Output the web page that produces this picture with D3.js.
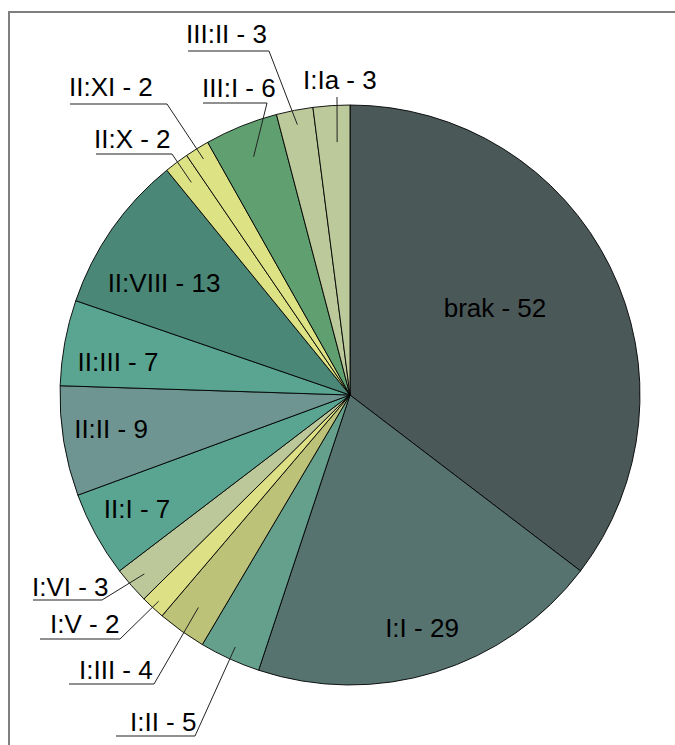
<!DOCTYPE html>
<html>
<head>
<meta charset="utf-8">
<script src="https://cdn.jsdelivr.net/npm/d3@7"></script>
<style>
  html, body { margin: 0; padding: 0; background: #fff; }
  svg { display: block; }
  text { font-family: "Liberation Sans", Arial, sans-serif; font-size: 26px; fill: #000; }
</style>
</head>
<body>
<svg id="chart" width="675" height="745"></svg>
<script>
// ---- data ----
const categories = ["brak", "I:I", "I:II", "I:III", "I:V", "I:VI", "II:I", "II:II", "II:III", "II:VIII", "II:X", "II:XI", "III:I", "III:II", "I:Ia"];
const values     = [52, 29, 5, 4, 2, 3, 7, 9, 7, 13, 2, 2, 6, 3, 3];
const colors     = ["#4b5858", "#567370", "#64a08c", "#bcc277", "#dde084", "#bcc79a", "#5aa591", "#6e9591", "#5aa591", "#4a8777", "#dde385", "#dde385", "#60a070", "#bcc99a", "#bcc99a"];

// ---- layout (label placement) ----
// inside labels: text centre x, baseline y
const insideLabels = {
  "brak":    {x: 495, y: 317},
  "I:I":     {x: 422, y: 637},
  "II:VIII": {x: 164, y: 292},
  "II:III":  {x: 118, y: 371},
  "II:II":   {x: 111, y: 438},
  "II:I":    {x: 137, y: 518}
};
// outside labels: text start x, baseline y, underline x1..x2 at uy, leader radius factor, angle offset (deg)
const outsideLabels = {
  "I:II":   {tx: 130, ty: 731, ux1: 116, ux2: 195, uy: 736, rf: 0.955, da: 0},
  "I:III":  {tx: 79,  ty: 679, ux1: 69,  ux2: 154, uy: 684, rf: 0.90,  da: 0},
  "I:V":    {tx: 50,  ty: 633, ux1: 40,  ux2: 120, uy: 639, rf: 0.97,  da: 0},
  "I:VI":   {tx: 32,  ty: 596, ux1: 33,  ux2: 102, uy: 600, rf: 0.94,  da: 0},
  "II:X":   {tx: 94,  ty: 148, ux1: 96,  ux2: 172, uy: 154, rf: 0.915, da: 0},
  "II:XI":  {tx: 69,  ty: 96,  ux1: 70,  ux2: 167, uy: 104, rf: 0.958, da: 0},
  "III:I":  {tx: 202, ty: 97,  ux1: 203, ux2: 267, uy: 103, rf: 0.886, da: 0},
  "III:II": {tx: 186, ty: 43,  ux1: 188, ux2: 269, uy: 51,  rf: 0.95,  da: 0},
  "I:Ia":   {tx: 303, ty: 89,  ux1: null, ux2: 337, uy: 97, rf: 0.873, da: 0.76}
};

const svg = d3.select("#chart");
const cx = 350, cy = 395, R = 290;

// frame
svg.append("path")
  .attr("d", "M9,745 L9,12 L675,12")
  .attr("fill", "none")
  .attr("stroke", "#7f7f7f")
  .attr("stroke-width", 2);

const data = categories.map((c, i) => ({name: c, value: values[i], color: colors[i]}));
const pie = d3.pie().sort(null).value(d => d.value);
const arcs = pie(data);
const arc = d3.arc().innerRadius(0).outerRadius(R);

const g = svg.append("g").attr("transform", `translate(${cx},${cy})`);
g.selectAll("path.slice")
  .data(arcs)
  .enter().append("path")
  .attr("class", "slice")
  .attr("d", arc)
  .attr("fill", d => d.data.color)
  .attr("stroke", "#000")
  .attr("stroke-width", 0.9)
  .attr("stroke-linejoin", "round");

// inside labels
arcs.forEach(a => {
  const L = insideLabels[a.data.name];
  if (!L) return;
  svg.append("text")
    .attr("x", L.x).attr("y", L.y)
    .attr("text-anchor", "middle")
    .text(`${a.data.name} - ${a.data.value}`);
});

// outside labels with leader lines
arcs.forEach(a => {
  const L = outsideLabels[a.data.name];
  if (!L) return;
  const mid = (a.startAngle + a.endAngle) / 2 + L.da * Math.PI / 180;
  const px = cx + Math.sin(mid) * R * L.rf;
  const py = cy - Math.cos(mid) * R * L.rf;
  svg.append("text")
    .attr("x", L.tx).attr("y", L.ty)
    .text(`${a.data.name} - ${a.data.value}`);
  if (L.ux1 !== null) {
    svg.append("line")
      .attr("x1", L.ux1).attr("y1", L.uy)
      .attr("x2", L.ux2).attr("y2", L.uy)
      .attr("stroke", "#222").attr("stroke-width", 1.2);
  }
  svg.append("line")
    .attr("x1", L.ux2).attr("y1", L.uy)
    .attr("x2", px).attr("y2", py)
    .attr("stroke", "#222").attr("stroke-width", 1);
});
</script>
</body>
</html>
